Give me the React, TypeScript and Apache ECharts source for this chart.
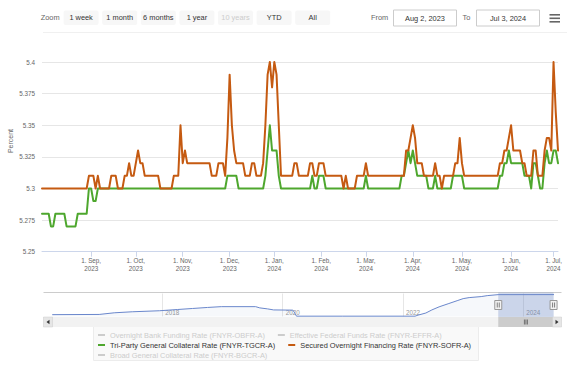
import React, { useEffect, useRef } from "react";
import * as echarts from "echarts";

const FONT = "'Liberation Sans', Arial, Helvetica, sans-serif";

// ---- data ----
const RANGE_START = "2023-08-02";
const RANGE_END = "2024-07-03";
const MARKET_HOLIDAYS = [
  "2023-09-04", "2023-10-09", "2023-11-23", "2023-12-25", "2024-01-01",
  "2024-01-15", "2024-02-19", "2024-05-27", "2024-06-19",
];
const MONTHS = ["Jan", "Feb", "Mar", "Apr", "May", "Jun", "Jul", "Aug", "Sep", "Oct", "Nov", "Dec"];

const OBFR_NAME = "Overnight Bank Funding Rate (FNYR-OBFR-A)";
const EFFR_NAME = "Effective Federal Funds Rate (FNYR-EFFR-A)";
const TGCR_NAME = "Tri-Party General Collateral Rate (FNYR-TGCR-A)";
const SOFR_NAME = "Secured Overnight Financing Rate (FNYR-SOFR-A)";
const BGCR_NAME = "Broad General Collateral Rate (FNYR-BGCR-A)";
const LEGEND_ROWS = [[OBFR_NAME, EFFR_NAME], [TGCR_NAME, SOFR_NAME], [BGCR_NAME]];
const HIDDEN_SERIES = [OBFR_NAME, EFFR_NAME, BGCR_NAME];

// one value per business day (Aug 2, 2023 .. Jul 3, 2024)
const TGCR = [
  5.28, 5.28, 5.28, 5.28, 5.27, 5.27, 5.28, 5.28, 5.28, 5.28,
  5.28, 5.27, 5.27, 5.27, 5.27, 5.27, 5.28, 5.28, 5.28, 5.28,
  5.28, 5.30, 5.30, 5.29, 5.29, 5.30, 5.30, 5.30, 5.30, 5.30,
  5.30, 5.30, 5.30, 5.30, 5.30, 5.30, 5.30, 5.30, 5.30, 5.30,
  5.30, 5.30, 5.30, 5.30, 5.30, 5.30, 5.30, 5.30, 5.30, 5.30,
  5.30, 5.30, 5.30, 5.30, 5.30, 5.30, 5.30, 5.30, 5.30, 5.30,
  5.30, 5.30, 5.30, 5.30, 5.30, 5.30, 5.30, 5.30, 5.30, 5.30,
  5.30, 5.30, 5.30, 5.30, 5.30, 5.30, 5.30, 5.30, 5.30, 5.30,
  5.30, 5.30, 5.30, 5.31, 5.31, 5.31, 5.31, 5.31, 5.30, 5.30,
  5.30, 5.30, 5.30, 5.30, 5.30, 5.30, 5.30, 5.30, 5.30, 5.30,
  5.31, 5.33, 5.35, 5.33, 5.33, 5.33, 5.31, 5.30, 5.30, 5.30,
  5.30, 5.30, 5.30, 5.30, 5.30, 5.30, 5.30, 5.30, 5.30, 5.30,
  5.30, 5.31, 5.30, 5.30, 5.31, 5.31, 5.31, 5.30, 5.30, 5.30,
  5.30, 5.30, 5.30, 5.30, 5.30, 5.30, 5.30, 5.30, 5.30, 5.30,
  5.30, 5.30, 5.30, 5.30, 5.30, 5.31, 5.30, 5.30, 5.30, 5.30,
  5.30, 5.30, 5.30, 5.30, 5.30, 5.30, 5.30, 5.30, 5.30, 5.30,
  5.30, 5.31, 5.31, 5.32, 5.33, 5.32, 5.33, 5.32, 5.31, 5.31,
  5.31, 5.31, 5.31, 5.30, 5.30, 5.30, 5.31, 5.30, 5.30, 5.30,
  5.30, 5.30, 5.30, 5.30, 5.31, 5.31, 5.31, 5.31, 5.31, 5.30,
  5.30, 5.30, 5.30, 5.30, 5.30, 5.30, 5.30, 5.30, 5.30, 5.30,
  5.30, 5.30, 5.30, 5.30, 5.30, 5.31, 5.31, 5.32, 5.32, 5.33,
  5.32, 5.32, 5.32, 5.32, 5.32, 5.32, 5.31, 5.31, 5.31, 5.30,
  5.32, 5.32, 5.31, 5.30, 5.30, 5.32, 5.33, 5.32, 5.32, 5.33,
  5.33, 5.32,
];
const SOFR = [
  5.30, 5.30, 5.30, 5.30, 5.30, 5.30, 5.30, 5.30, 5.30, 5.30,
  5.30, 5.30, 5.30, 5.30, 5.30, 5.30, 5.30, 5.30, 5.30, 5.30,
  5.30, 5.31, 5.31, 5.31, 5.30, 5.31, 5.30, 5.30, 5.30, 5.30,
  5.30, 5.31, 5.31, 5.31, 5.30, 5.30, 5.30, 5.31, 5.31, 5.32,
  5.31, 5.31, 5.32, 5.33, 5.32, 5.32, 5.31, 5.31, 5.31, 5.31,
  5.31, 5.31, 5.31, 5.30, 5.30, 5.30, 5.30, 5.30, 5.30, 5.31,
  5.31, 5.31, 5.35, 5.32, 5.33, 5.32, 5.32, 5.32, 5.32, 5.32,
  5.32, 5.32, 5.32, 5.32, 5.32, 5.32, 5.31, 5.31, 5.31, 5.32,
  5.32, 5.32, 5.31, 5.34, 5.39, 5.35, 5.33, 5.32, 5.32, 5.32,
  5.32, 5.31, 5.31, 5.31, 5.32, 5.32, 5.31, 5.31, 5.31, 5.32,
  5.35, 5.39, 5.40, 5.38, 5.40, 5.39, 5.35, 5.31, 5.31, 5.31,
  5.31, 5.31, 5.31, 5.32, 5.32, 5.31, 5.31, 5.31, 5.31, 5.31,
  5.32, 5.32, 5.31, 5.31, 5.32, 5.32, 5.32, 5.31, 5.31, 5.31,
  5.31, 5.31, 5.31, 5.31, 5.31, 5.30, 5.31, 5.30, 5.30, 5.30,
  5.30, 5.31, 5.31, 5.31, 5.31, 5.32, 5.31, 5.31, 5.31, 5.31,
  5.31, 5.31, 5.31, 5.31, 5.31, 5.31, 5.31, 5.31, 5.31, 5.31,
  5.31, 5.31, 5.31, 5.33, 5.33, 5.34, 5.35, 5.34, 5.32, 5.32,
  5.32, 5.31, 5.31, 5.31, 5.31, 5.31, 5.32, 5.31, 5.31, 5.30,
  5.31, 5.31, 5.31, 5.31, 5.31, 5.32, 5.32, 5.34, 5.32, 5.31,
  5.31, 5.31, 5.31, 5.31, 5.31, 5.31, 5.31, 5.31, 5.31, 5.31,
  5.31, 5.31, 5.31, 5.31, 5.31, 5.32, 5.32, 5.33, 5.33, 5.34,
  5.35, 5.33, 5.33, 5.33, 5.33, 5.32, 5.32, 5.31, 5.31, 5.31,
  5.33, 5.33, 5.31, 5.31, 5.31, 5.33, 5.34, 5.34, 5.33, 5.40,
  5.36, 5.33,
];

// navigator (full history), decimal years and percent
const NAV_YEARS = [
  2016.17, 2016.95, 2017.2, 2017.5, 2017.95, 2018.25, 2018.5, 2018.75, 2018.98, 2019.55,
  2019.62, 2019.75, 2019.85, 2020.17, 2020.2, 2020.23, 2021.0, 2022.2, 2022.25, 2022.38,
  2022.48, 2022.6, 2022.75, 2022.9, 2023.0, 2023.1, 2023.3, 2023.4, 2023.58, 2024.51,
];
const NAV_VALUES = [
  0.45, 0.5, 0.9, 1.15, 1.4, 1.7, 1.95, 2.2, 2.4, 2.4,
  2.1, 1.85, 1.6, 1.55, 0.9, 0.08, 0.08, 0.08, 0.33, 0.85,
  1.6, 2.35, 3.1, 3.85, 4.35, 4.6, 4.85, 5.08, 5.32, 5.33,
];
const NAV_MIN_YEAR = 2016;
const NAV_MAX_YEAR = 2024.51;

const RANGE_BUTTONS = ["1 week", "1 month", "6 months", "1 year", "10 years", "YTD", "All"];
const DISABLED_BUTTONS = ["10 years"];
const FROM_LABEL = "Aug 2, 2023";
const TO_LABEL = "Jul 3, 2024";

function businessDays(): string[] {
  const out: string[] = [];
  const d = new Date(RANGE_START + "T00:00:00Z");
  const end = new Date(RANGE_END + "T00:00:00Z");
  while (d <= end) {
    const wd = d.getUTCDay();
    const s = d.toISOString().slice(0, 10);
    if (wd !== 0 && wd !== 6 && MARKET_HOLIDAYS.indexOf(s) < 0) out.push(s);
    d.setUTCDate(d.getUTCDate() + 1);
  }
  return out;
}

function decimalYear(s: string): number {
  const d = new Date(s + "T00:00:00Z");
  const y = d.getUTCFullYear();
  const start = Date.UTC(y, 0, 1);
  const next = Date.UTC(y + 1, 0, 1);
  return y + (d.getTime() - start) / (next - start);
}

export default function App() {
  const ref = useRef<HTMLDivElement>(null);

  useEffect(() => {
    const el = ref.current;
    if (!el) return;
    const chart = echarts.init(el, undefined, { renderer: "svg" });
    const DATES = businessDays();

    const isMonthStart = (index: number) =>
      index > 0 && DATES[index] && DATES[index - 1] && DATES[index].slice(5, 7) !== DATES[index - 1].slice(5, 7);

    const selected: Record<string, boolean> = {};
    HIDDEN_SERIES.forEach((n) => (selected[n] = false));

    const legendBase = {
      orient: "horizontal",
      left: 98,
      padding: 0,
      itemWidth: 7,
      itemHeight: 2,
      itemGap: 13,
      icon: "rect",
      z: 10,
      inactiveColor: "#cccccc",
      itemStyle: { borderWidth: 0 },
      textStyle: { fontSize: 7.4, color: "#333333", fontFamily: FONT, lineHeight: 8 },
      selected,
    };

    const lineSeries = (name: string, data: number[], color: string) => ({
      name,
      type: "line",
      xAxisIndex: 0,
      yAxisIndex: 0,
      data,
      color,
      symbol: "none",
      showSymbol: false,
      lineStyle: { width: 2, color, join: "round", cap: "round" },
      emphasis: { disabled: true },
    });

    const option: any = {
      animation: false,
      backgroundColor: "#ffffff",
      textStyle: { fontFamily: FONT },
      grid: [
        { left: 42, right: 9, top: 62, bottom: 117.3 },
        { left: 42, right: 13, top: 293.5, height: 23 },
      ],
      legend: LEGEND_ROWS.map((row, k) => ({ ...legendBase, data: row, top: 331 + k * 10 })),
      xAxis: [
        {
          type: "category",
          gridIndex: 0,
          data: DATES,
          boundaryGap: false,
          axisLine: { lineStyle: { color: "#ccd6eb", width: 1 } },
          axisTick: { interval: isMonthStart, length: 5, lineStyle: { color: "#ccd6eb" } },
          axisLabel: {
            interval: isMonthStart,
            color: "#666666",
            fontSize: 6.3,
            lineHeight: 8,
            margin: 5,
            fontFamily: FONT,
            formatter: (v: string) => `1. ${MONTHS[+v.slice(5, 7) - 1]},\n${v.slice(0, 4)}`,
          },
          splitLine: { show: false },
        },
        {
          type: "value",
          gridIndex: 1,
          min: NAV_MIN_YEAR,
          max: NAV_MAX_YEAR,
          interval: 2,
          axisLine: { show: false },
          axisTick: { show: false },
          splitLine: { show: true, showMinLine: false, showMaxLine: false, lineStyle: { color: "#e6e6e6" } },
          axisLabel: {
            inside: true,
            align: "left",
            margin: 1,
            padding: [0, 0, 0, 3],
            color: "#999999",
            fontSize: 6.3,
            fontFamily: FONT,
            showMinLabel: false,
            showMaxLabel: false,
            formatter: (v: number) => (Math.abs(v - Math.round(v)) < 1e-6 ? String(Math.round(v)) : ""),
          },
        },
      ],
      yAxis: [
        {
          type: "value",
          gridIndex: 0,
          min: 5.25,
          max: 5.4,
          interval: 0.025,
          axisLine: { show: false },
          axisTick: { show: false },
          splitLine: { lineStyle: { color: "#e6e6e6", width: 1 } },
          axisLabel: {
            color: "#666666",
            fontSize: 6.3,
            margin: 7,
            padding: [0, 0, 6, 0],
            fontFamily: FONT,
            formatter: (v: number) => String(+v.toFixed(3)),
          },
        },
        {
          type: "value",
          gridIndex: 1,
          min: 0,
          max: 5.6,
          show: false,
          splitLine: { show: false },
        },
      ],
      series: [
        lineSeries(OBFR_NAME, [], "#7cb5ec"),
        lineSeries(EFFR_NAME, [], "#434348"),
        lineSeries(TGCR_NAME, TGCR, "#4ea72e"),
        lineSeries(SOFR_NAME, SOFR, "#c55a11"),
        lineSeries(BGCR_NAME, [], "#f7a35c"),
        {
          name: "navigator",
          type: "line",
          xAxisIndex: 1,
          yAxisIndex: 1,
          data: NAV_YEARS.map((y, i) => [y, NAV_VALUES[i]]),
          symbol: "none",
          silent: true,
          lineStyle: { width: 1, color: "#6a87cc" },
          areaStyle: { color: "rgba(51,92,173,0.06)" },
          color: "#6a87cc",
        },
      ],
    };

    chart.setOption(option);

    const x0 = chart.convertToPixel({ xAxisIndex: 1 } as any, decimalYear(RANGE_START)) as number;
    const x1 = chart.convertToPixel({ xAxisIndex: 1 } as any, decimalYear(RANGE_END)) as number;

    const g: any[] = [];
    // toolbar
    g.push({ type: "line", silent: true, shape: { x1: 43, y1: 32.5, x2: 567, y2: 32.5 }, style: { stroke: "#f0f0f0", lineWidth: 1 } });
    g.push({
      type: "text", x: 40.7, y: 17.8,
      style: { text: "Zoom", fill: "#666666", fontSize: 7.4, fontFamily: FONT, align: "left", verticalAlign: "middle" },
    });
    RANGE_BUTTONS.forEach((label, k) => {
      const bx = 63.6 + 38.6 * k;
      g.push({ type: "rect", shape: { x: bx, y: 10.5, width: 35, height: 14.5, r: 2 }, style: { fill: "#f7f7f7" } });
      g.push({
        type: "text", x: bx + 17.5, y: 17.8,
        style: {
          text: label, fill: DISABLED_BUTTONS.indexOf(label) >= 0 ? "#cccccc" : "#333333",
          fontSize: 7.4, fontFamily: FONT, align: "center", verticalAlign: "middle",
        },
      });
    });
    g.push({ type: "text", x: 371, y: 17.8, style: { text: "From", fill: "#666666", fontSize: 7.4, fontFamily: FONT, align: "left", verticalAlign: "middle" } });
    g.push({ type: "rect", shape: { x: 393.5, y: 10, width: 63, height: 16 }, style: { fill: "#ffffff", stroke: "#cccccc", lineWidth: 1 } });
    g.push({ type: "text", x: 425, y: 18, style: { text: FROM_LABEL, fill: "#333333", fontSize: 7.4, fontFamily: FONT, align: "center", verticalAlign: "middle" } });
    g.push({ type: "text", x: 462.5, y: 17.8, style: { text: "To", fill: "#666666", fontSize: 7.4, fontFamily: FONT, align: "left", verticalAlign: "middle" } });
    g.push({ type: "rect", shape: { x: 476.5, y: 10, width: 63, height: 16 }, style: { fill: "#ffffff", stroke: "#cccccc", lineWidth: 1 } });
    g.push({ type: "text", x: 508, y: 18, style: { text: TO_LABEL, fill: "#333333", fontSize: 7.4, fontFamily: FONT, align: "center", verticalAlign: "middle" } });
    [14, 17.5, 21].forEach((hy) =>
      g.push({ type: "rect", shape: { x: 549.5, y: hy, width: 10.5, height: 1.6 }, style: { fill: "#666666" } })
    );
    // y axis title
    g.push({
      type: "text", x: 10.3, y: 141, rotation: Math.PI / 2,
      style: { text: "Percent", fill: "#666666", fontSize: 7, fontFamily: FONT, align: "center", verticalAlign: "middle" },
    });
    // navigator overlay
    g.push({ type: "line", z: 50, shape: { x1: 43.5, y1: 292.5, x2: 561.5, y2: 292.5 }, style: { stroke: "#cccccc", lineWidth: 1 } });
    g.push({ type: "rect", z: 50, shape: { x: x0, y: 292.5, width: x1 - x0, height: 24.5 }, style: { fill: "rgba(102,133,194,0.3)" } });
    [x0, x1].forEach((hx) => {
      g.push({ type: "rect", z: 52, shape: { x: hx - 3.5, y: 300.5, width: 7, height: 9 }, style: { fill: "#f2f2f2", stroke: "#999999", lineWidth: 1 } });
      g.push({ type: "line", z: 53, shape: { x1: hx - 1, y1: 302.5, x2: hx - 1, y2: 307.5 }, style: { stroke: "#333333", lineWidth: 0.6 } });
      g.push({ type: "line", z: 53, shape: { x1: hx + 1, y1: 302.5, x2: hx + 1, y2: 307.5 }, style: { stroke: "#333333", lineWidth: 0.6 } });
    });
    // scrollbar
    g.push({ type: "rect", z: 50, shape: { x: 43.5, y: 317, width: 518, height: 10 }, style: { fill: "#f2f2f2" } });
    g.push({ type: "rect", z: 51, shape: { x: x0, y: 317, width: x1 - x0, height: 10 }, style: { fill: "#cccccc" } });
    const cx = (x0 + x1) / 2;
    [-1.5, 0, 1.5].forEach((dx) =>
      g.push({ type: "line", z: 52, shape: { x1: cx + dx, y1: 319.5, x2: cx + dx, y2: 324.5 }, style: { stroke: "#333333", lineWidth: 0.6 } })
    );
    g.push({ type: "rect", z: 51, shape: { x: 43.5, y: 317, width: 9, height: 10 }, style: { fill: "#e6e6e6", stroke: "#cccccc", lineWidth: 0.5 } });
    g.push({ type: "polygon", z: 52, shape: { points: [[49.5, 319.8], [49.5, 324.2], [46.5, 322]] }, style: { fill: "#333333" } });
    g.push({ type: "rect", z: 51, shape: { x: 552.5, y: 317, width: 9, height: 10 }, style: { fill: "#e6e6e6", stroke: "#cccccc", lineWidth: 0.5 } });
    g.push({ type: "polygon", z: 52, shape: { points: [[555.5, 319.8], [555.5, 324.2], [558.5, 322]] }, style: { fill: "#333333" } });
    // legend box
    g.push({ type: "rect", z: 1, shape: { x: 93.5, y: 326.5, width: 385, height: 34 }, style: { fill: "#f9f9f9", stroke: "#ececec", lineWidth: 1 } });

    chart.setOption({ graphic: { elements: g } });

    return () => chart.dispose();
  }, []);

  return <div ref={ref} style={{ position: "absolute", left: 0, top: 0, width: 567, height: 369 }} />;
}
